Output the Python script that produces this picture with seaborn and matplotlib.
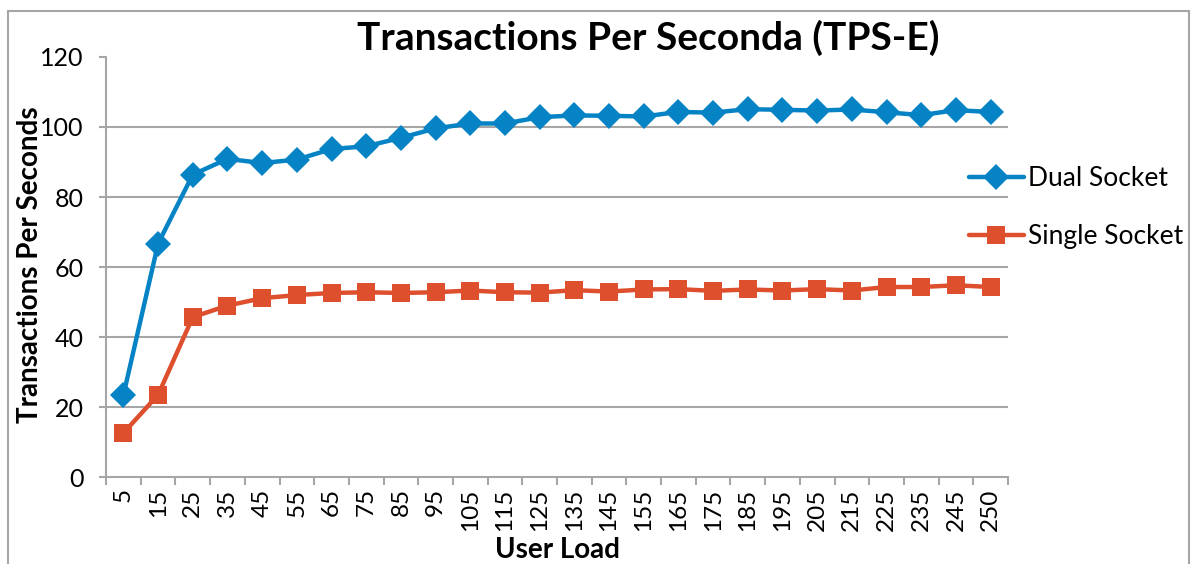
# %%
import pandas as pd
import matplotlib.pyplot as plt
import seaborn as sns
from matplotlib.patches import Rectangle

# %%
# Data
user_load = ["5", "15", "25", "35", "45", "55", "65", "75", "85", "95", "105", "115", "125",
             "135", "145", "155", "165", "175", "185", "195", "205", "215", "225", "235", "245", "250"]
dual_socket = [23.4, 66.7, 86.4, 90.9, 89.7, 90.7, 93.7, 94.5, 96.9, 99.6, 101.0, 101.0, 102.8,
               103.3, 103.2, 103.0, 104.3, 104.1, 105.1, 104.9, 104.7, 105.0, 104.2, 103.4, 104.8, 104.3]
single_socket = [12.6, 23.5, 45.7, 49.0, 51.1, 52.0, 52.6, 52.8, 52.6, 52.8, 53.3, 52.8, 52.7,
                 53.4, 53.0, 53.6, 53.7, 53.2, 53.6, 53.3, 53.7, 53.3, 54.3, 54.3, 54.8, 54.3]
series = ["Dual Socket", "Single Socket"]
colors = ["#0583C4", "#DE4F2E"]

df = pd.DataFrame({
    "User Load": user_load * 2,
    "TPS": dual_socket + single_socket,
    "Socket": [series[0]] * len(user_load) + [series[1]] * len(user_load),
})

# %%
sns.set_style("white")
plt.rcParams["font.family"] = ["Lato", "DejaVu Sans"]
plt.rcParams["text.color"] = "black"

fig = plt.figure(figsize=(11.93, 5.64), dpi=100)
ax = fig.add_axes([0.0889, 0.154, 0.756, 0.745])

sns.pointplot(data=df, x="User Load", y="TPS", hue="Socket", order=user_load,
              hue_order=series, palette=colors, markers=["D", "s"], linestyles=["-", "-"],
              markersize=13, linewidth=3.2, markeredgewidth=0, ax=ax, legend=True)

ax.set_ylim(0, 120)
ax.set_xlim(-0.5, len(user_load) - 0.5)
ax.set_yticks(range(0, 121, 20))
for v in range(20, 101, 20):
    ax.axhline(v, color="#a6a6a6", lw=1.5, zorder=0)

for s in ["top", "right"]:
    ax.spines[s].set_visible(False)
for s in ["left", "bottom"]:
    ax.spines[s].set_color("#a6a6a6")
    ax.spines[s].set_linewidth(1.5)

ax.set_xticks(range(len(user_load)))
ax.set_xticklabels(user_load, rotation=90, fontsize=17.5, color="black")
ax.set_xticks([i - 0.5 for i in range(len(user_load) + 1)], minor=True)
ax.tick_params(axis="x", which="major", length=0, pad=8)
ax.tick_params(axis="x", which="minor", length=6, width=1.5, color="#a6a6a6", direction="out")
ax.tick_params(axis="y", length=5, width=1.5, color="#a6a6a6", direction="out", pad=11,
               labelsize=18, labelcolor="black")
ax.tick_params(left=True, bottom=True, which="both")
ax.tick_params(axis="x", which="major", bottom=False)

ax.set_xlabel("User Load", fontsize=20, fontweight="bold", color="black")
ax.xaxis.set_label_coords(0.501, -0.142)
ax.set_ylabel("Transactions Per Seconds", fontsize=20, fontweight="bold", color="black")
ax.yaxis.set_label_coords(-0.07, 0.505)

handles, labels = ax.get_legend_handles_labels()
ax.get_legend().remove()
fig.legend(handles, labels, loc="center left", bbox_to_anchor=(0.792, 0.632), frameon=False,
           fontsize=19, handlelength=2.1, handletextpad=0.15, labelspacing=1.25, numpoints=1)

fig.text(0.543, 0.933, "Transactions Per Seconda (TPS-E)", ha="center", va="center",
         fontsize=28, fontweight="bold")

# bingkai luar
fig.patches.append(Rectangle((0.007, -0.05), 0.99, 1.03, transform=fig.transFigure,
                             fill=False, edgecolor="#a6a6a6", lw=1.5))

fig.savefig("out.png", dpi=100)
